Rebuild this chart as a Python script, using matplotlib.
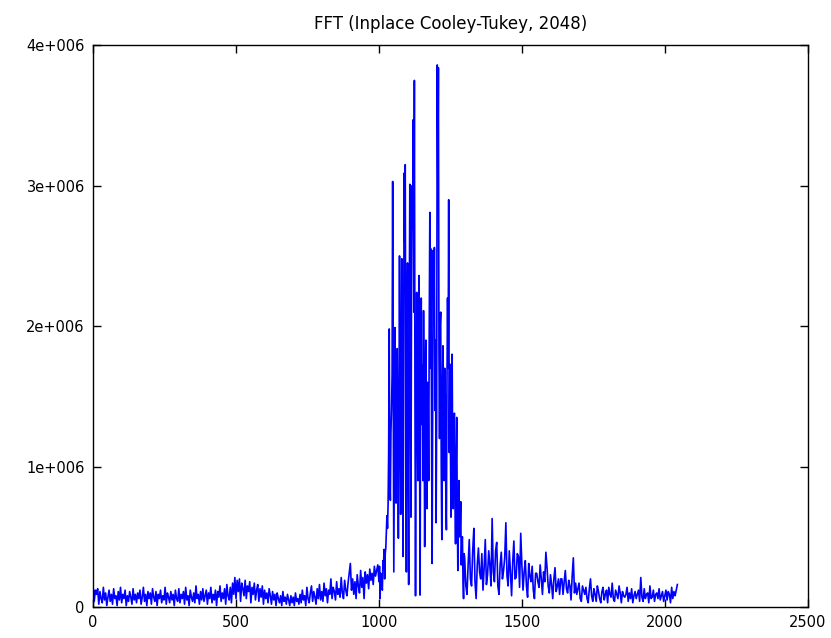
import numpy as np
import matplotlib
matplotlib.use("Agg")
import matplotlib.pyplot as plt
from matplotlib.ticker import FuncFormatter

# FFT magnitudes in thousands
# bins 0..996, every 4th bin
low_vals = [150, 40, 120, 90, 130, 20, 110, 60, 30, 140, 50, 100, 10, 70, 120, 40, 90, 20, 130, 60, 80, 10, 110, 50, 140,
            30, 90, 60, 120, 10, 80, 40, 110, 70, 20, 130, 50, 90, 30, 100, 60, 120, 20, 70, 140, 40, 90, 10, 110, 60,
            100, 20, 130, 70, 40, 110, 10, 90, 60, 120, 30, 80, 50, 140, 20, 100, 70, 30, 110, 50, 90, 10, 120, 60, 40,
            130, 30, 90, 60, 110, 20, 140, 50, 80, 10, 120, 70, 40, 100, 30, 150, 60, 90, 20, 110, 50, 130, 40, 80, 120,
            20, 100, 60, 140, 30, 90, 50, 120, 10, 110, 70, 150, 40, 100, 60, 130, 20, 160, 80, 50, 140, 30, 170, 90, 210,
            60, 190, 110, 200, 40, 170, 130, 80, 190, 60, 150, 110, 180, 30, 140, 90, 170, 50, 120, 160, 40, 130, 70, 150, 20,
            120, 60, 100, 30, 130, 80, 20, 110, 50, 90, 10, 100, 60, 30, 80, 10, 110, 40, 70, 20, 90, 50, 10, 80, 30,
            70, 10, 100, 40, 60, 20, 90, 30, 120, 50, 80, 10, 140, 60, 30, 100, 150, 40, 110, 70, 20, 130, 60, 160, 50,
            110, 40, 170, 80, 130, 30, 120, 90, 200, 60, 140, 110, 50, 180, 90, 130, 70, 210, 100, 60, 190, 120, 80, 170, 240,
            310, 120, 200, 90, 180, 60, 230, 150, 100, 260, 140, 210, 60, 250, 170, 230, 130, 270, 190, 240, 160, 290, 220, 260, 300]

# bins 1000..1298, every 2nd bin (main peak)
mid_vals = [180, 290, 60, 240, 230, 150, 120, 330, 300, 410, 200, 380, 420, 530, 650, 560, 730, 1100, 1980, 900, 760, 1250, 1400, 1650, 3030,
            1500, 250, 1200, 1990, 900, 740, 1600, 1840, 1100, 490, 1300, 2500, 1400, 660, 1500, 2480, 1700, 360, 1200, 3090, 2600, 3150, 1300, 250, 1800,
            2450, 1100, 160, 2000, 3010, 1700, 640, 2300, 3000, 2700, 3470, 2100, 3750, 1500, 80, 1400, 2240, 1600, 900, 2000, 2360, 1200, 85, 1700, 2200,
            1300, 1720, 900, 2110, 1500, 430, 1400, 1900, 1100, 700, 1600, 1500, 900, 2000, 2810, 1700, 2550, 1300, 310, 1500, 2540, 2000, 2560, 1400, 1900,
            600, 1400, 3860, 3000, 3840, 1800, 1200, 2000, 2100, 1000, 480, 1500, 1860, 1300, 900, 1700, 1500, 800, 550, 1600, 2200, 1700, 2900, 1100, 1730,
            1200, 640, 1400, 1800, 1100, 700, 1300, 1380, 800, 450, 1000, 1350, 700, 260, 600, 900, 500, 550, 750, 300, 450, 500, 200, 60, 380]

# bins 1300..2044, every 4th bin
high_vals = [350, 150, 90, 300, 480, 200, 150, 400, 560, 180, 60, 300, 420, 250, 200, 380, 120, 280, 480, 160, 230, 400, 300, 150, 630,
             250, 180, 400, 460, 150, 90, 300, 390, 200, 260, 350, 600, 220, 150, 400, 250, 80, 320, 470, 200, 210, 380, 360, 140, 525,
             300, 120, 250, 330, 150, 70, 310, 220, 180, 290, 120, 60, 240, 240, 180, 140, 300, 200, 90, 250, 180, 390, 280, 150, 100,
             230, 160, 60, 200, 280, 110, 150, 200, 90, 200, 200, 90, 180, 260, 130, 100, 190, 150, 50, 220, 350, 100, 170, 90, 130,
             170, 60, 40, 150, 120, 90, 140, 60, 30, 130, 200, 80, 40, 130, 90, 40, 150, 110, 60, 30, 110, 140, 50, 90, 120,
             30, 140, 90, 70, 170, 60, 40, 120, 90, 60, 150, 100, 30, 110, 80, 70, 90, 140, 40, 100, 60, 130, 30, 80, 110,
             60, 90, 120, 40, 210, 70, 40, 130, 60, 90, 100, 30, 150, 60, 70, 120, 40, 90, 100, 60, 130, 50, 80, 110, 40,
             80, 120, 50, 110, 90, 30, 140, 60, 110, 80, 120, 160]

low_bins = 0 + 4 * np.arange(len(low_vals))
mid_bins = 1000 + 2 * np.arange(len(mid_vals))
high_bins = 1300 + 4 * np.arange(len(high_vals))

bins = np.concatenate([low_bins, mid_bins, high_bins])
mag = np.concatenate([low_vals, mid_vals, high_vals]) * 1000.0

fig = plt.figure(figsize=(8.31, 6.38), dpi=100)
ax = fig.add_axes([0.112, 0.0486, 0.86, 0.8804])

ax.plot(bins, mag, color="#0000ff", lw=1.2)

ax.set_xlim(0, 2500)
ax.set_ylim(0, 4e6)
ax.set_xticks([0, 500, 1000, 1500, 2000, 2500])
ax.set_yticks([0, 1e6, 2e6, 3e6, 4e6])
ax.yaxis.set_major_formatter(FuncFormatter(
    lambda v, p: "0" if v == 0 else f"{v / 1e6:.0f}e+006"))
ax.tick_params(direction="in", length=6, width=1, top=True, right=True,
               labelsize=10.5, pad=6, colors="black")
for s in ax.spines.values():
    s.set_linewidth(1)

ax.set_title("FFT (Inplace Cooley-Tukey, 2048)", fontsize=12, pad=12)

plt.savefig("out.png", dpi=100)
plt.close()
